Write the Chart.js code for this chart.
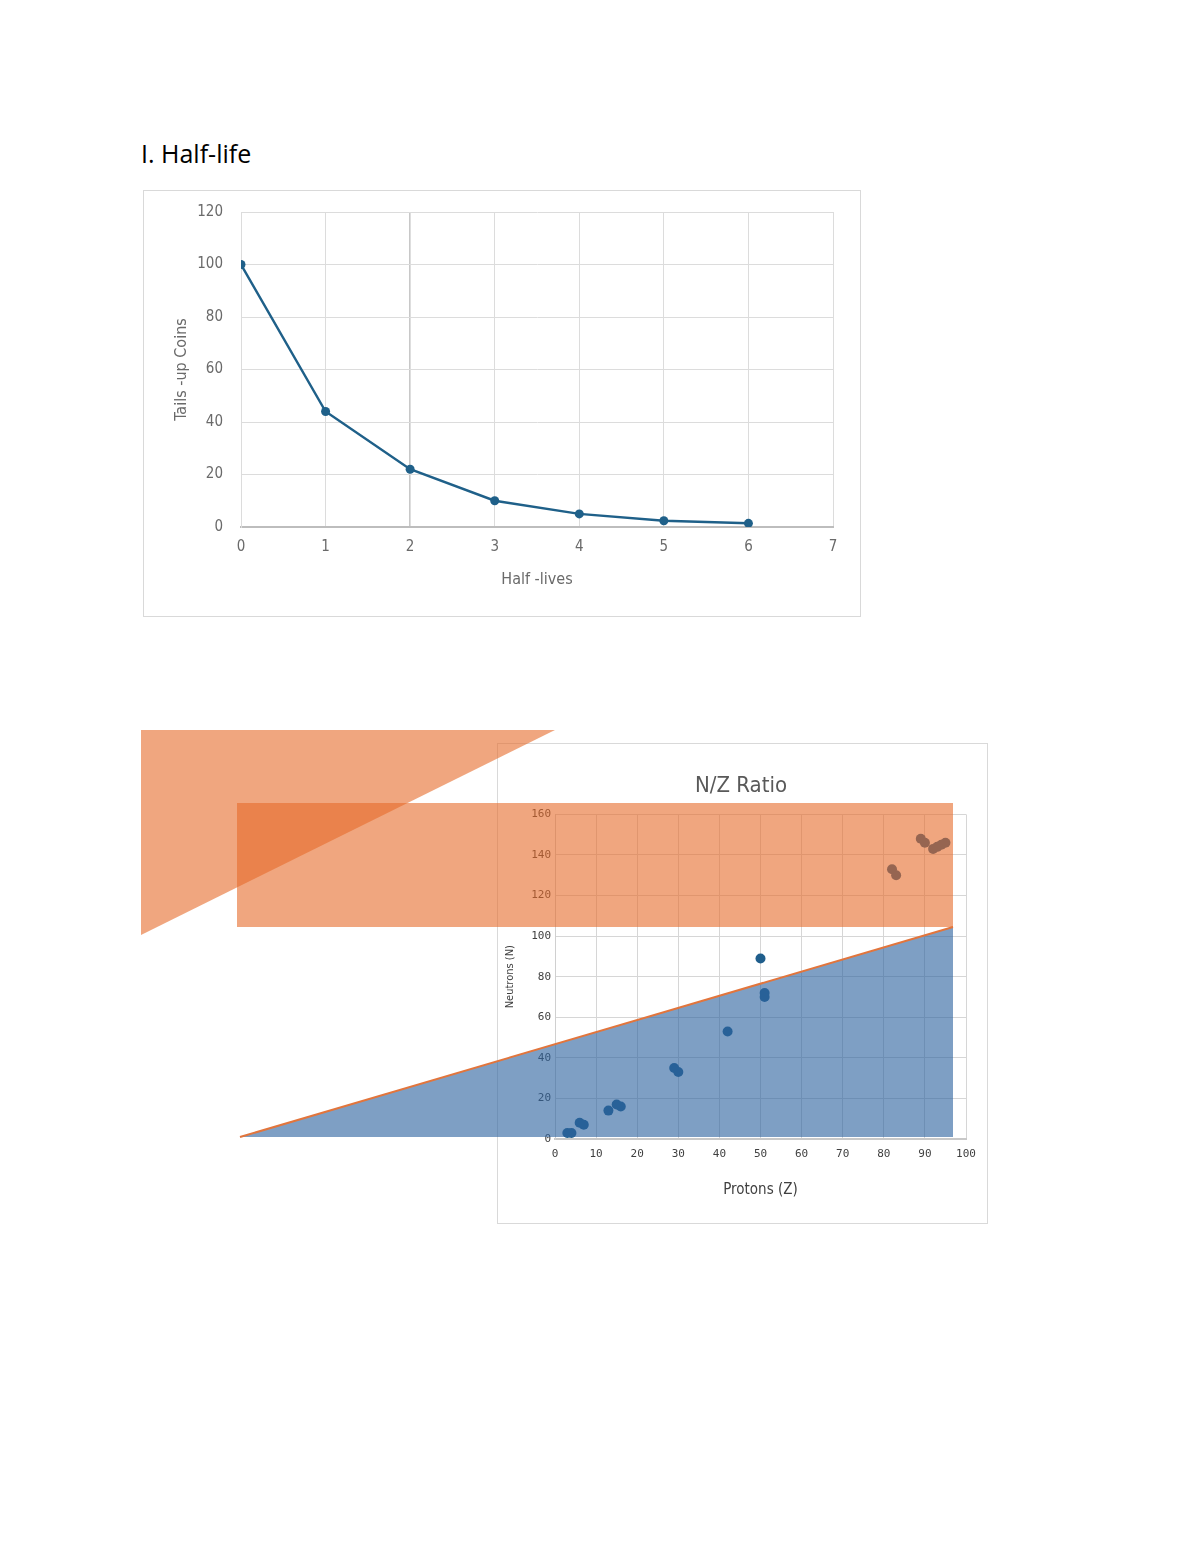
<!DOCTYPE html>
<html>
<head>
<meta charset="utf-8">
<script src="https://cdn.jsdelivr.net/npm/chart.js@4.4.1/dist/chart.umd.min.js"></script>
<style>
  html, body { margin: 0; padding: 0; background: #fff; }
  #page { position: relative; width: 1200px; height: 1553px; overflow: hidden; }
  h1 { position: absolute; left: 141px; top: 136px; margin: 0; font: 400 25px 'Open Sans', sans-serif; color: #000; }
  .box { position: absolute; border: 1px solid #d9d9d9; z-index: 1; }
  #box1 { left: 143px; top: 190px; width: 716px; height: 425px; }
  #box2 { left: 497px; top: 743px; width: 489px; height: 479px; }
  .layer { position: absolute; left: 0; top: 0; z-index: 2; }
</style>
</head>
<body>
<div id="page">
  <h1>I. Half-life</h1>
  <div class="box" id="box1"><canvas id="half_life_chart" width="716" height="425"></canvas></div>
  <div class="box" id="box2"><canvas id="nz_chart" width="489" height="479"></canvas></div>

  <!-- stray shapes sitting on the page over the second chart -->
  <svg class="layer" width="1200" height="1553">
    <polygon points="240,1137 953,927 953,1137" fill="rgba(46,100,160,0.62)"/>
    <line x1="240" y1="1137" x2="953" y2="927" stroke="#e2753c" stroke-width="2"/>
    <polygon points="141,730 555,730 141,935" fill="rgba(230,107,42,0.6)"/>
    <rect x="237" y="803" width="716" height="124" fill="rgba(230,107,42,0.6)"/>
  </svg>
</div>

<script>
// half-life coin toss
var halfLives = [0, 1, 2, 3, 4, 5, 6];
var tailsUp = [100, 44, 22, 10, 5, 2.4, 1.4];
var halfLifeRange = [0, 7];
var coinRange = [0, 120];

// N/Z ratio
var protons = [3, 4, 6, 7, 13, 15, 16, 29, 30, 42, 50, 51, 51, 82, 83, 89, 90, 92, 93, 94, 95];
var neutrons = [3, 3, 8, 7, 14, 17, 16, 35, 33, 53, 89, 70, 72, 133, 130, 148, 146, 143, 144, 145, 146];
var protonRange = [0, 100];
var neutronRange = [0, 160];

var narrow = "'Liberation Sans Narrow', 'DejaVu Sans Condensed', sans-serif";
var mono = "'DejaVu Sans Mono', monospace";

function toPoints(xs, ys) {
    return xs.map(function (x, i) { return { x: x, y: ys[i] }; });
}

new Chart(document.getElementById("half_life_chart").getContext("2d"), {
    type: 'line',
    data: {
        datasets: [{
            label: "Tails-up Coins",
            data: toPoints(halfLives, tailsUp),
            borderColor: '#1f6089',
            backgroundColor: '#1f6089',
            borderWidth: 2.5,
            pointRadius: 4.5,
            pointBorderWidth: 0,
            tension: 0
        }]
    },
    options: {
        responsive: false,
        animation: false,
        layout: { padding: { top: 21, right: 27, left: 0, bottom: 0 } },
        plugins: { legend: { display: false }, tooltip: { enabled: false } },
        scales: {
            x: {
                type: 'linear',
                min: halfLifeRange[0],
                max: halfLifeRange[1],
                afterFit: function (s) { s.height = 89; },
                grid: {
                    drawTicks: false,
                    color: function (c) { return c.tick && c.tick.value === 2 ? '#c8c8c8' : '#dcdcdc'; },
                    lineWidth: function (c) { return c.tick && c.tick.value === 2 ? 1.6 : 1; }
                },
                border: { color: '#bdbdbd', width: 2 },
                ticks: { stepSize: 1, padding: 11, color: '#6a6a6a', font: { family: narrow, size: 15 } },
                title: { display: true, text: 'Half -lives', color: '#6a6a6a', padding: { bottom: 27 }, font: { family: narrow, size: 16 } }
            },
            y: {
                min: coinRange[0],
                max: coinRange[1],
                afterFit: function (s) { s.width = 97; s.paddingTop = 8; s.paddingBottom = 8; },
                grid: { drawTicks: false, color: '#dcdcdc' },
                border: { color: '#dcdcdc' },
                ticks: { stepSize: 20, padding: 18, color: '#6a6a6a', font: { family: narrow, size: 15 } },
                title: { display: true, text: 'Tails -up Coins', color: '#6a6a6a', padding: { top: 28 }, font: { family: narrow, size: 16 } }
            }
        }
    }
});

new Chart(document.getElementById("nz_chart").getContext("2d"), {
    type: 'scatter',
    data: {
        datasets: [{
            label: "Neutrons",
            data: toPoints(protons, neutrons),
            backgroundColor: '#1f5e8c',
            borderWidth: 0,
            pointRadius: 5
        }]
    },
    options: {
        responsive: false,
        animation: false,
        layout: { padding: { top: 0, right: 21, left: 18, bottom: 0 } },
        plugins: {
            legend: { display: false },
            tooltip: { enabled: false },
            title: {
                display: true,
                text: 'N/Z Ratio',
                color: '#595959',
                padding: { top: 29, bottom: 15 },
                font: { family: narrow, size: 22, weight: 'normal' }
            }
        },
        scales: {
            x: {
                type: 'linear',
                min: protonRange[0],
                max: protonRange[1],
                afterFit: function (s) { s.height = 84; },
                grid: { drawTicks: false, color: '#d6d6d6' },
                border: { color: '#c8c8c8', width: 2 },
                ticks: { stepSize: 10, padding: 9, color: '#404040', font: { family: mono, size: 11 } },
                title: { display: true, text: 'Protons (Z)', color: '#404040', padding: { bottom: 24 }, font: { family: narrow, size: 15 } }
            },
            y: {
                min: neutronRange[0],
                max: neutronRange[1],
                afterFit: function (s) { s.width = 39; },
                grid: { drawTicks: false, color: '#d6d6d6' },
                border: { color: '#d0d0d0' },
                ticks: { stepSize: 20, padding: 4, color: '#404040', font: { family: mono, size: 11 } },
                title: { display: true, text: 'Neutrons (N)', color: '#404040', padding: { top: -12 }, font: { family: narrow, size: 11 } }
            }
        }
    }
});
</script>
</body>
</html>
